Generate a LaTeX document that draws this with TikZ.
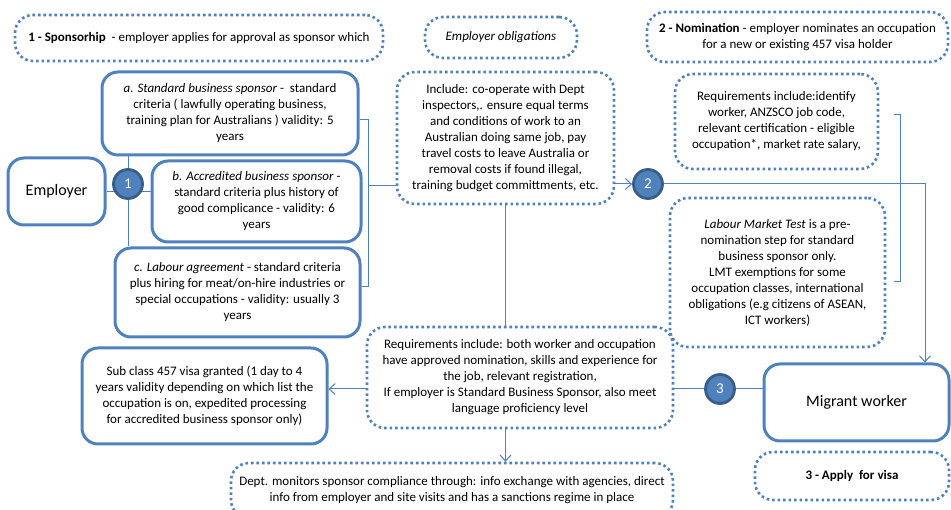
\documentclass[tikz,border=0pt]{standalone}
\usepackage{fontspec}
\setmainfont{Carlito}
\usetikzlibrary{arrows.meta,backgrounds}
\definecolor{boxblue}{HTML}{4F81BD}
\definecolor{ringblue}{HTML}{385D8A}
\begin{document}
\begin{tikzpicture}[x=1pt, y=-1pt, >={Straight Barb[length=6pt,width=11pt]},
    every node/.style={font=\fontsize{13}{16}\selectfont, align=center, inner sep=0pt},
    solidbox/.style={draw=boxblue, line width=3pt, rounded corners=16pt},
    dotbox/.style={draw=boxblue, line width=2.6pt, dash pattern=on 2.6pt off 2.9pt, rounded corners=18pt},
    num/.style={circle, fill=boxblue, draw=ringblue, line width=2.8pt, minimum size=29pt, text=white, font=\fontsize{15}{18}\selectfont},
    link/.style={draw=boxblue, line width=1pt}]
    \useasboundingbox (0,0) rectangle (951,510);
    \node[dotbox, minimum width=368pt, minimum height=46pt] (spon) at (199,38) {\textbf{1 - Sponsorhip}\ \ - employer applies for approval as sponsor which};
    \node[dotbox, minimum width=152pt, minimum height=41pt] (obl) at (501,37.5) {\textit{Employer obligations}};
    \node[dotbox, minimum width=301pt, minimum height=50pt] (nom) at (797.5,37) {\textbf{2 - Nomination}\ - employer nominates an occupation\\for a new or existing 457 visa holder};
    \node[solidbox, minimum width=256pt, minimum height=83pt] (std) at (230,113.5) {\textit{a. Standard business sponsor} - \ standard\\criteria ( lawfully operating business,\\training plan for Australians ) validity: 5\\years};
    \node[solidbox, minimum width=97pt, minimum height=67pt, font=\fontsize{16}{19}\selectfont] (emp) at (56.5,191.5) {Employer};
    \node[solidbox, minimum width=209pt, minimum height=81pt] (acc) at (256.5,201.5) {\textit{b. Accredited business sponsor} -\\standard criteria plus history of\\good complicance - validity: 6\\years};
    \node[solidbox, minimum width=245pt, minimum height=89pt] (lab) at (237.5,292.5) {\textit{c. Labour agreement} - standard criteria\\plus hiring for meat/on-hire industries or\\special occupations - validity: usually 3\\years};
    \node[dotbox, minimum width=217pt, minimum height=132pt] (incl) at (505.5,138) {Include: co-operate with Dept\\inspectors,. ensure equal terms\\and conditions of work to an\\Australian doing same job, pay\\travel costs to leave Australia or\\removal costs if found illegal,\\training budget committments, etc.};
    \node[dotbox, minimum width=203pt, minimum height=95pt] (req) at (776.5,121.5) {Requirements include:identify\\worker, ANZSCO job code,\\relevant certification - eligible\\occupation*, market rate salary,};
    \node[dotbox, minimum width=215pt, minimum height=149pt] (lmt) at (777.5,272.5) {\textit{Labour Market Test} is a pre-\\nomination step for standard\\business sponsor only.\\LMT exemptions for some\\occupation classes, international\\obligations (e.g citizens of ASEAN,\\ICT workers)};
    \node[dotbox, minimum width=306pt, minimum height=101pt] (vreq) at (520,377.5) {Requirements include: both worker and occupation\\have approved nomination, skills and experience for\\the job, relevant registration,\\If employer is Standard Business Sponsor, also meet\\language proficiency level};
    \node[solidbox, minimum width=245pt, minimum height=96pt] (visa) at (204.5,396) {Sub class 457 visa granted (1 day to 4\\years validity depending on which list the\\occupation is on, expedited processing\\for accredited business sponsor only)};
    \node[dotbox, minimum width=442pt, minimum height=55pt] (dept) at (452,490.5) {Dept. monitors sponsor compliance through: info exchange with agencies, direct\\info from employer and site visits and has a sanctions regime in place};
    \node[solidbox, minimum width=185pt, minimum height=77pt, font=\fontsize{16}{19}\selectfont] (mig) at (856.5,402.5) {Migrant worker};
    \node[dotbox, minimum width=194pt, minimum height=48pt] (apply) at (852,476) {\textbf{3 - Apply\ \ for visa}};
    \node[num] (c1) at (128,184) {1};
    \node[num] (c2) at (648,184) {2};
    \node[num] (c3) at (720,389) {3};
    \coordinate (bt) at (368,120);
    \coordinate (bm) at (368,186);
    \coordinate (bb) at (368,287);
    \coordinate (rt) at (900,115);
    \coordinate (rb) at (900,282);
    \coordinate (turn) at (925,184);
    \begin{scope}[on background layer]
        \draw[link] (emp.east) -- (emp.east -| acc.west);
        \draw[link] (std.south -| c1) -- (lab.north -| c1);
        \draw[link] (std.east |- bt) -- (bt) -- (bb) -- (lab.east |- bb);
        \draw[link] (bm) -- (bm -| incl.west);
        \draw[link,->] (c2 -| incl.east) -- (c2.west);
        \draw[link,->] (c2.east) -- (turn) -- (turn |- mig.north);
        \draw[link] ([xshift=-6pt]rt) -- (rt) -- (rb) -- ([xshift=-6pt]rb);
        \draw[link] (incl.south) -- (incl.south |- vreq.north);
        \draw[link,->] (incl.south |- vreq.south) -- (incl.south |- dept.north);
        \draw[link,->] (vreq.west |- c3) -- (visa.east |- c3);
        \draw[link] (vreq.east |- c3) -- (mig.west |- c3);
    \end{scope}
\end{tikzpicture}
\end{document}
